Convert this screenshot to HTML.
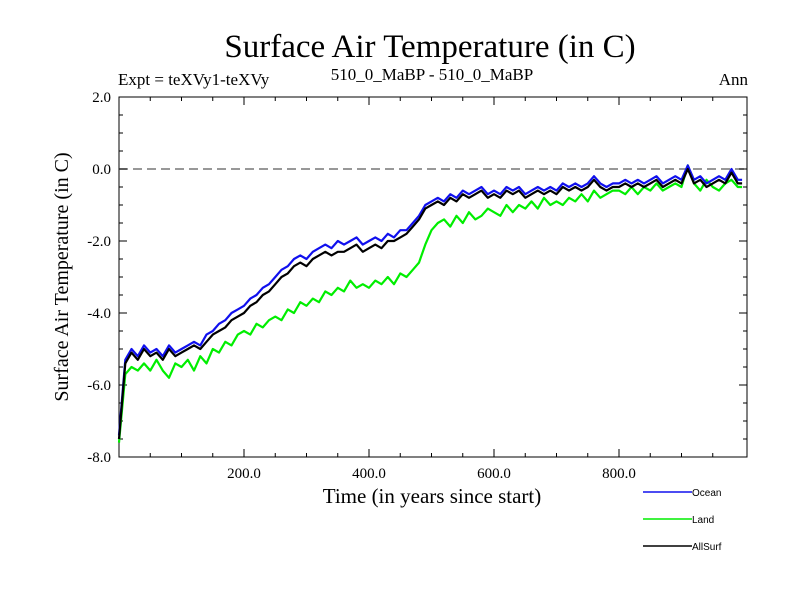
<!DOCTYPE html>
<html><head><meta charset="utf-8"><style>body{margin:0;background:#fff}svg{display:block}</style></head>
<body>
<svg id="chart" width="800" height="600" xmlns="http://www.w3.org/2000/svg" font-family="Liberation Serif, serif">
<rect width="800" height="600" fill="#fff"/>
<text x="430" y="57" font-size="33" text-anchor="middle">Surface Air Temperature (in C)</text>
<text x="118" y="85" font-size="17">Expt = teXVy1-teXVy</text>
<text x="432" y="80" font-size="17" text-anchor="middle">510_0_MaBP - 510_0_MaBP</text>
<text x="748" y="85" font-size="17" text-anchor="end">Ann</text>
<text transform="translate(68,277) rotate(-90)" font-size="20" text-anchor="middle">Surface Air Temperature (in C)</text>
<text x="432" y="503" font-size="21" text-anchor="middle">Time (in years since start)</text>
<g id="axes"></g>
<g id="series"></g>
<g id="legend" font-family="Liberation Sans, sans-serif" font-size="10"></g>
</svg>
<script>
const years=[];for(let i=0;i<=100;i++)years.push(i*10);
const ocean=[-7.4,-5.3,-5.0,-5.2,-4.9,-5.1,-5.0,-5.2,-4.9,-5.1,-5.0,-4.9,-4.8,-4.9,-4.6,-4.5,-4.3,-4.2,-4.0,-3.9,-3.8,-3.6,-3.5,-3.3,-3.2,-3.0,-2.8,-2.7,-2.5,-2.4,-2.5,-2.3,-2.2,-2.1,-2.2,-2.0,-2.1,-2.0,-1.9,-2.1,-2.0,-1.9,-2.0,-1.8,-1.9,-1.7,-1.7,-1.5,-1.3,-1.0,-0.9,-0.8,-0.9,-0.7,-0.8,-0.6,-0.7,-0.6,-0.5,-0.7,-0.6,-0.7,-0.5,-0.6,-0.5,-0.7,-0.6,-0.5,-0.6,-0.5,-0.6,-0.4,-0.5,-0.4,-0.5,-0.4,-0.2,-0.4,-0.5,-0.4,-0.4,-0.3,-0.4,-0.3,-0.4,-0.3,-0.2,-0.4,-0.3,-0.2,-0.3,0.1,-0.3,-0.2,-0.4,-0.3,-0.2,-0.3,0.0,-0.3,-0.3];
const allsurf=[-7.5,-5.4,-5.1,-5.3,-5.0,-5.2,-5.1,-5.3,-5.0,-5.2,-5.1,-5.0,-4.9,-5.0,-4.8,-4.6,-4.5,-4.4,-4.2,-4.1,-4.0,-3.8,-3.7,-3.5,-3.4,-3.2,-3.0,-2.9,-2.7,-2.6,-2.7,-2.5,-2.4,-2.3,-2.4,-2.3,-2.3,-2.2,-2.1,-2.3,-2.2,-2.1,-2.2,-2.0,-2.0,-1.9,-1.8,-1.6,-1.4,-1.1,-1.0,-0.9,-1.0,-0.8,-0.9,-0.7,-0.8,-0.7,-0.6,-0.8,-0.7,-0.8,-0.6,-0.7,-0.6,-0.8,-0.7,-0.6,-0.7,-0.6,-0.7,-0.5,-0.6,-0.5,-0.6,-0.5,-0.3,-0.5,-0.6,-0.5,-0.5,-0.4,-0.5,-0.4,-0.5,-0.4,-0.3,-0.5,-0.4,-0.3,-0.4,0.0,-0.4,-0.3,-0.5,-0.4,-0.3,-0.4,-0.1,-0.4,-0.4];
const land=[-7.6,-5.7,-5.5,-5.6,-5.4,-5.6,-5.3,-5.6,-5.8,-5.4,-5.5,-5.3,-5.6,-5.2,-5.4,-5.0,-5.1,-4.8,-4.9,-4.6,-4.5,-4.6,-4.3,-4.4,-4.2,-4.1,-4.2,-3.9,-4.0,-3.7,-3.8,-3.6,-3.7,-3.4,-3.5,-3.3,-3.4,-3.1,-3.3,-3.2,-3.3,-3.1,-3.2,-3.0,-3.2,-2.9,-3.0,-2.8,-2.6,-2.1,-1.7,-1.5,-1.4,-1.6,-1.3,-1.5,-1.2,-1.4,-1.3,-1.1,-1.2,-1.3,-1.0,-1.2,-1.0,-1.1,-0.9,-1.1,-0.8,-1.0,-0.9,-1.0,-0.8,-0.9,-0.7,-0.9,-0.6,-0.8,-0.7,-0.6,-0.6,-0.7,-0.5,-0.7,-0.5,-0.6,-0.4,-0.6,-0.5,-0.4,-0.5,0.1,-0.4,-0.6,-0.3,-0.5,-0.6,-0.4,-0.3,-0.5,-0.5];
const yTicks=[2,0,-2,-4,-6,-8];
const yTickLabels=["2.0","0.0","-2.0","-4.0","-6.0","-8.0"];
const xTicks=[200,400,600,800];
const xTickLabels=["200.0","400.0","600.0","800.0"];
const seriesNames=["Ocean","Land","AllSurf"];
const seriesColors=["#1010ee","#00ee00","#000000"];

const L=119,R=747,T=97,B=457;
const xs=v=>L+v*0.625, ys=v=>T+(2-v)*36;
const NS="http://www.w3.org/2000/svg";
function mk(tag,attrs,parent){const e=document.createElementNS(NS,tag);for(const k in attrs)e.setAttribute(k,attrs[k]);parent.appendChild(e);return e;}
const ax=document.getElementById('axes');
let f=mk('rect',{x:L,y:T,width:R-L,height:B-T,fill:'none',stroke:'#000','stroke-width':1},ax);


let z=mk('line',{x1:L,x2:R,y1:ys(0),y2:ys(0),stroke:'#777','stroke-width':1.5,'stroke-dasharray':'9,5'},ax);


let d='';
for(let v=-8;v<=2.001;v+=0.5){const y=ys(v);const len=Math.abs(v-Math.round(v/2)*2)<0.01?8:4;d+=`M${L},${y}h${len}M${R},${y}h${-len}`;}
for(let v=50;v<1000;v+=50){const x=xs(v);const len=v%200===0?8:4;d+=`M${x},${B}v${-len}M${x},${T}v${len}`;}
let tk=mk('path',{d:d,stroke:'#000','stroke-width':1,fill:'none'},ax);


yTicks.forEach((v,i)=>{const t=mk('text',{x:111,y:ys(v)+5,'font-size':15,'text-anchor':'end'},ax);t.textContent=yTickLabels[i];

});
xTicks.forEach((v,i)=>{const t=mk('text',{x:xs(v),y:478,'font-size':15,'text-anchor':'middle'},ax);t.textContent=xTickLabels[i];

});
const sg=document.getElementById('series');
[[land,1],[ocean,0],[allsurf,2]].forEach(([arr,k])=>{
 const pts=arr.map((v,i)=>`${xs(Math.min(years[i],997)).toFixed(1)},${ys(v).toFixed(1)}`).join(' ');
 const p=mk('polyline',{points:pts,fill:'none',stroke:seriesColors[k],'stroke-width':2.2,'stroke-linejoin':'round'},sg);
 
 
});
const lg=document.getElementById('legend');
seriesNames.forEach((n,k)=>{const y=492+27*k;
 const l=mk('line',{x1:643,x2:692,y1:y,y2:y,stroke:seriesColors[k],'stroke-width':1.5},lg);
 
 
 const t=mk('text',{x:692,y:y+4},lg);t.textContent=n;
 
 
});
</script>
</body></html>
